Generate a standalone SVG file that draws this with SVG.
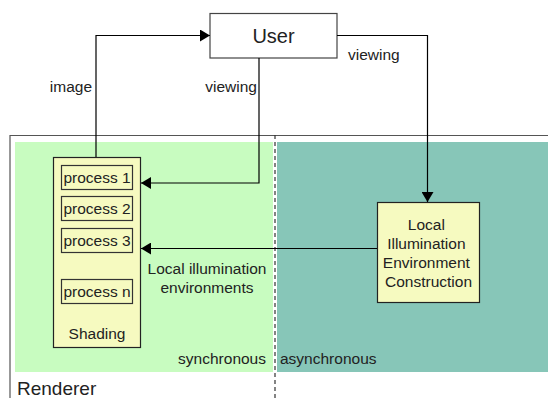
<svg xmlns="http://www.w3.org/2000/svg" width="548" height="398" viewBox="0 0 548 398">
<defs>
<style>
text{font-family:"Liberation Sans",Arial,sans-serif;fill:#222;}
.lbl{font-size:15.5px;}
.box{fill:#f6fac0;stroke:#222;stroke-width:1.2;}
.pbox{fill:#f6fac0;stroke:#333;stroke-width:1.2;}
.ln{fill:none;stroke:#000;stroke-width:1.2;}
</style>
<marker id="ah" viewBox="0 0 10 12" refX="10" refY="6" markerWidth="10" markerHeight="12" markerUnits="userSpaceOnUse" orient="auto">
<path d="M0,0 L10,6 L0,12 Z" fill="#000"/>
</marker>
</defs>
<rect width="548" height="398" fill="#fff"/>
<g id="renderer">
<path d="M10,398 V135.5 H548" fill="none" stroke="#555" stroke-width="1.2"/>
<rect x="15" y="142" width="258" height="230" fill="#c8fcc0"/>
<rect x="277" y="142" width="271" height="230" fill="#87c6b8"/>
<line x1="275" y1="135" x2="275" y2="398" stroke="#333" stroke-width="1.2" stroke-dasharray="4,3"/>
<text x="17" y="395" font-size="19">Renderer</text>
<text x="266" y="364" class="lbl" text-anchor="end">synchronous</text>
<text x="280" y="364" class="lbl">asynchronous</text>
</g>
<g id="user">
<rect x="210" y="13.5" width="127" height="44.5" fill="#fff" stroke="#444" stroke-width="1.2"/>
<text x="273.5" y="43" font-size="20" text-anchor="middle">User</text>
</g>
<g id="shading">
<rect x="53.5" y="157.5" width="87" height="190" class="box"/>
<rect x="61.5" y="165.5" width="71" height="24" class="pbox"/>
<text x="97" y="183" class="lbl" text-anchor="middle">process 1</text>
<rect x="61.5" y="196.5" width="71" height="24" class="pbox"/>
<text x="97" y="214" class="lbl" text-anchor="middle">process 2</text>
<rect x="61.5" y="228.5" width="71" height="24" class="pbox"/>
<text x="97" y="246" class="lbl" text-anchor="middle">process 3</text>
<rect x="61.5" y="279.5" width="71" height="24" class="pbox"/>
<text x="97" y="297" class="lbl" text-anchor="middle">process n</text>
<text x="97" y="339" class="lbl" text-anchor="middle">Shading</text>
</g>
<g id="liec">
<rect x="377.5" y="202.5" width="102" height="100" class="box"/>
<text class="lbl" text-anchor="middle">
<tspan x="428.5" y="230">Local</tspan>
<tspan x="428.5" y="249">Illumination</tspan>
<tspan x="428.5" y="268">Environment</tspan>
<tspan x="428.5" y="287">Construction</tspan>
</text>
</g>
<g id="connectors">
<path class="ln" d="M96,157 V35.5 H210" marker-end="url(#ah)"/>
<path class="ln" d="M259,58 V183 H141" marker-end="url(#ah)"/>
<path class="ln" d="M337,35.5 H427.5 V202" marker-end="url(#ah)"/>
<path class="ln" d="M377,248.5 H141" marker-end="url(#ah)"/>
<text x="92" y="92" class="lbl" text-anchor="end">image</text>
<text x="257" y="92" class="lbl" text-anchor="end">viewing</text>
<text x="348" y="60" class="lbl">viewing</text>
<text x="207" y="274" class="lbl" text-anchor="middle">Local illumination</text>
<text x="207" y="293" class="lbl" text-anchor="middle">environments</text>
</g>
</svg>
